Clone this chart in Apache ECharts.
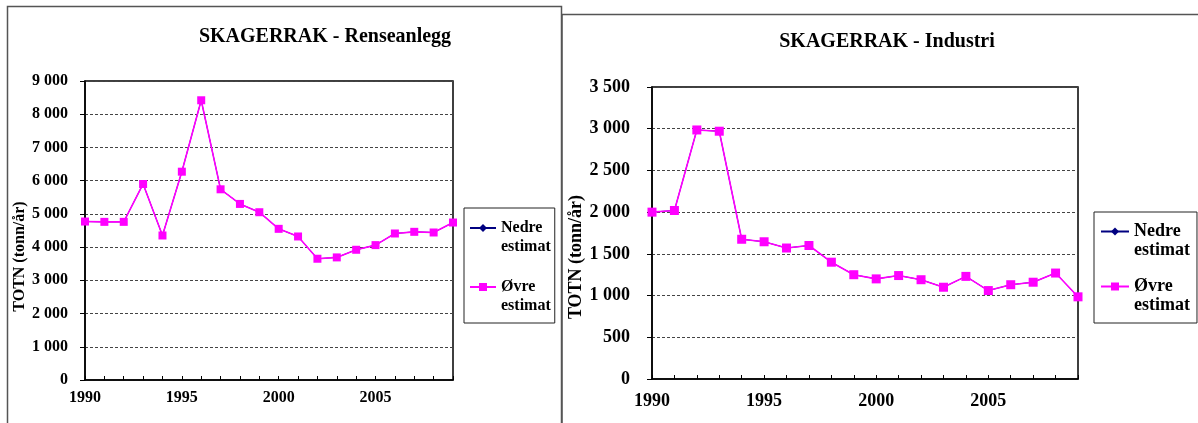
<!DOCTYPE html>
<html>
<head>
<meta charset="utf-8">
<script src="https://cdn.jsdelivr.net/npm/echarts@6/dist/echarts.min.js"></script>
<style>
html,body{margin:0;padding:0;background:#fff;}
#chart{width:1198px;height:423px;}
</style>
</head>
<body>
<div id="chart"></div>
<script>
// ---- data ----
const years = ['1990','1991','1992','1993','1994','1995','1996','1997','1998','1999',
               '2000','2001','2002','2003','2004','2005','2006','2007','2008','2009'];
const renseOvre  = [4770,4760,4760,5900,4350,6270,8420,5740,5300,5050,4550,4320,3650,3690,3920,4060,4410,4460,4440,4740];
const renseNedre = [4770,4760,4760,5900,4350,6270,8420,5740,5300,5050,4550,4320,3650,3690,3920,4060,4410,4460,4440,4740];
const industriOvre  = [2000,2020,2985,2970,1675,1645,1570,1600,1400,1250,1200,1240,1190,1100,1230,1060,1130,1160,1270,985];
const industriNedre = [2000,2020,2985,2970,1675,1645,1570,1600,1400,1250,1200,1240,1190,1100,1230,1060,1130,1160,1270,985];
const titles = ['SKAGERRAK - Renseanlegg', 'SKAGERRAK - Industri'];
const yName = 'TOTN (tonn/år)';
const seriesNames = ['Nedre estimat', 'Øvre estimat'];

const FONT = '"Liberation Serif", "Times New Roman", serif';
const fmtThousands = v => String(v).replace(/\B(?=(\d{3})+(?!\d))/g, ' ');

function xAxisFor(gi, fs, margin) {
  return {
    type: 'category', gridIndex: gi, data: years, boundaryGap: false,
    axisLine: {lineStyle: {color: '#000', width: 1.5}},
    axisTick: {show: true, interval: 0, inside: true, length: 4, lineStyle: {color: '#000'}},
    axisLabel: {interval: 4, margin: margin, color: '#000', fontFamily: FONT, fontWeight: 'bold', fontSize: fs},
    splitLine: {show: false}
  };
}
function yAxisFor(gi, max, interval, fs, margin, nameGap, nameFs, shift) {
  return {
    type: 'value', gridIndex: gi, min: 0, max: max, interval: interval,
    name: yName, nameLocation: 'middle', nameGap: nameGap,
    nameTextStyle: {color: '#000', fontFamily: FONT, fontWeight: 'bold', fontSize: nameFs, padding: [0, shift * 2, 0, 0]},
    axisLine: {show: true, lineStyle: {color: '#000', width: 1.5}},
    axisTick: {show: true, length: 5, lineStyle: {color: '#000'}},
    axisLabel: {margin: margin, color: '#000', fontFamily: FONT, fontWeight: 'bold', fontSize: fs, formatter: fmtThousands},
    splitLine: {show: true, lineStyle: {color: '#444', width: 1, type: [3, 2]}}
  };
}
function legendFor(left, top, fs, pad, gap, iw) {
  const ts = {color: '#000', fontFamily: FONT, fontWeight: 'bold', fontSize: fs, lineHeight: 19};
  return {
    orient: 'vertical', left: left, top: top, data: seriesNames,
    itemWidth: iw, itemHeight: 10, itemGap: gap, padding: pad,
    borderColor: '#222', borderWidth: 1, selectedMode: false,
    formatter: n => {
      const p = n.split(' ');
      return '{s| }\n{t|' + p[0] + '}\n{t|' + p[1] + '}';
    },
    textStyle: Object.assign({}, ts, {rich: {s: Object.assign({}, ts), t: Object.assign({}, ts)}})
  };
}
function nedre(gi, data, size) {
  return {
    name: seriesNames[0], type: 'line', xAxisIndex: gi, yAxisIndex: gi, data: data,
    symbol: 'diamond', symbolSize: size, color: '#000080',
    lineStyle: {color: '#000080', width: 1}, itemStyle: {color: '#000080'},
    animation: false, z: 2
  };
}
function ovre(gi, data, size) {
  return {
    name: seriesNames[1], type: 'line', xAxisIndex: gi, yAxisIndex: gi, data: data,
    symbol: 'rect', symbolSize: size, color: '#ff00ff',
    lineStyle: {color: '#ff00ff', width: 1.6}, itemStyle: {color: '#ff00ff'},
    animation: false, z: 3
  };
}

const chart = echarts.init(document.getElementById('chart'), null, {renderer: 'canvas'});
chart.setOption({
  animation: false,
  backgroundColor: '#fff',
  title: [
    {text: titles[0], left: 320, top: 22, textAlign: 'center',
     textStyle: {color: '#000', fontFamily: FONT, fontWeight: 'bold', fontSize: 20}},
    {text: titles[1], left: 882, top: 27, textAlign: 'center',
     textStyle: {color: '#000', fontFamily: FONT, fontWeight: 'bold', fontSize: 20}}
  ],
  grid: [
    {left: 85, top: 81, width: 368, height: 299, show: true, borderColor: '#000', borderWidth: 1.5, backgroundColor: 'transparent', containLabel: false, outerBoundsMode: 'none'},
    {left: 652, top: 87, width: 426, height: 292, show: true, borderColor: '#000', borderWidth: 1.5, backgroundColor: 'transparent', containLabel: false, outerBoundsMode: 'none'}
  ],
  xAxis: [xAxisFor(0, 16, 10), xAxisFor(1, 18, 13)],
  yAxis: [yAxisFor(0, 9000, 1000, 16, 17, 56, 16, 26), yAxisFor(1, 3500, 500, 18, 22, 63, 18, 24)],
  legend: [
    legendFor(464, 208, 16, [-8.5, 4, 7.5, 5], 2, 26),
    legendFor(1094, 212, 18, [-9, 7, 8, 6], -2, 28)
  ],
  graphic: [
    {type: 'rect', z: -10, shape: {x: 7.5, y: 6.5, width: 554, height: 440}, style: {fill: 'none', stroke: '#555', lineWidth: 1.5}},
    {type: 'rect', z: -10, shape: {x: 562, y: 14.5, width: 660, height: 440}, style: {fill: 'none', stroke: '#555', lineWidth: 1.5}}
  ],
  series: [nedre(0, renseNedre, 5), ovre(0, renseOvre, 8), nedre(1, industriNedre, 5), ovre(1, industriOvre, 9)]
});
</script>
</body>
</html>
